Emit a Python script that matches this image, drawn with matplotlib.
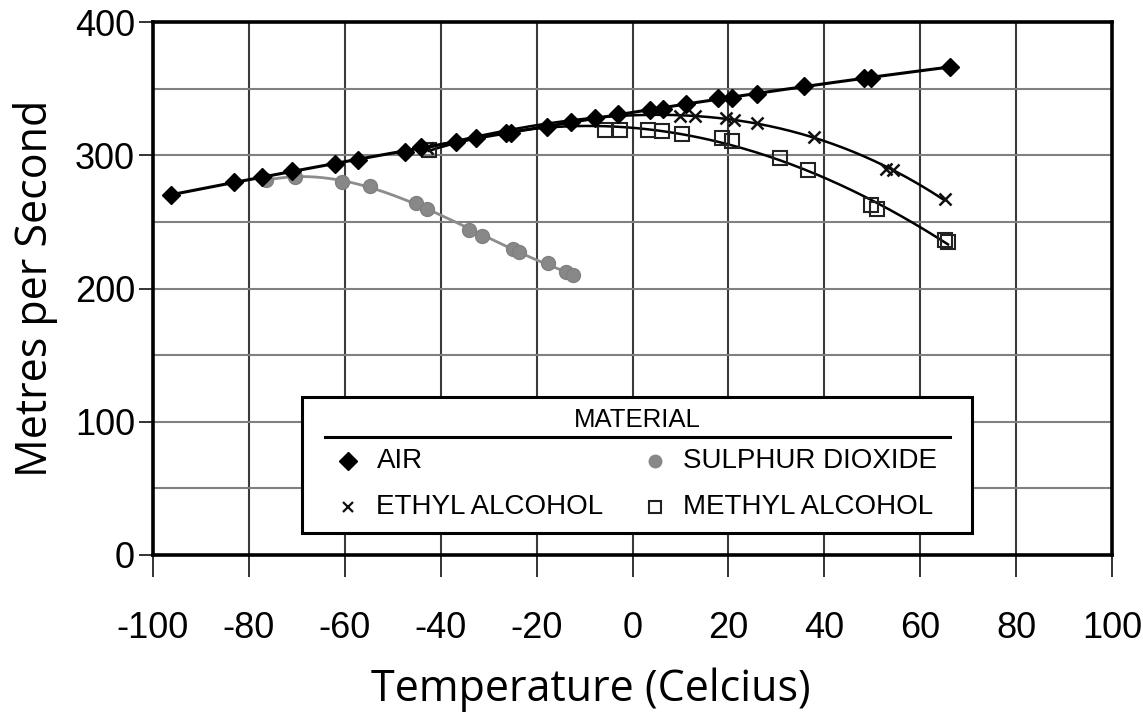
import numpy as np
import matplotlib
matplotlib.use("Agg")
import matplotlib.pyplot as plt
from matplotlib.patches import Rectangle
from matplotlib.lines import Line2D

plt.rcParams['axes.unicode_minus'] = False
plt.rcParams['font.family'] = ['Liberation Sans', 'DejaVu Sans']

# ---- data ----
air_x = [-96.3, -83.2, -77.3, -71.0, -62.0, -57.2, -47.4, -44.2, -36.9, -32.7, -26.4, -25.4,
         -17.9, -12.8, -7.9, -3.0, 3.6, 6.4, 11.2, 17.9, 20.7, 25.9, 35.8, 48.3, 49.7, 66.2]
air_y = [270, 279.6, 283.8, 288.3, 293.8, 296.8, 302.5, 306.3, 310, 312.6, 316.4, 316.9,
         321.3, 325, 327.6, 331, 334.3, 335, 338.8, 342.6, 343.3, 346.3, 351.8, 357.6, 358.3, 366.3]

so2_x = [-76.4, -70.4, -60.6, -54.7, -45.2, -42.8, -34.1, -31.3, -25.0, -23.6, -17.7, -13.8, -12.4]
so2_y = [281.3, 283.8, 280, 276.8, 263.8, 260, 243.8, 239.3, 230, 227.5, 218.8, 212.5, 210]

ethyl_x = [-42.9, 9.9, 13.1, 19.4, 21.1, 25.9, 37.9, 52.9, 54.3, 65.1]
ethyl_y = [305.5, 329.3, 329.3, 327.6, 326.8, 324.3, 313.8, 290, 288.8, 266.8]

methyl_x = [-42.5, -5.8, -2.7, 3.3, 6.1, 10.3, 18.7, 20.8, 30.7, 36.5, 49.7, 51.0, 65.1, 65.8]
methyl_y = [304, 319.3, 319.3, 318.8, 318.3, 316.3, 312.6, 310.8, 297.6, 288.8, 262.6, 260, 236.3, 235]

x_ticks = [-100, -80, -60, -40, -20, 0, 20, 40, 60, 80, 100]
y_ticks = [0, 100, 200, 300, 400]
legend_title = "MATERIAL"
names = ["AIR", "SULPHUR DIOXIDE", "ETHYL ALCOHOL", "METHYL ALCOHOL"]

fig = plt.figure(figsize=(11.43, 7.21), dpi=100)
ax = fig.add_axes([153/1143, 1-555/721, (1112-153)/1143, (555-22)/721])
ax.set_xlim(-100, 100)
ax.set_ylim(0, 400)

# grid
for xv in range(-80, 100, 20):
    ax.axvline(xv, color='#3a3a3a', lw=1.5, zorder=1)
for yv in range(50, 400, 50):
    ax.axhline(yv, color='#808080', lw=1.5, zorder=1)

def smooth(xs, ys, deg=3):
    xs = np.asarray(xs); ys = np.asarray(ys)
    c = np.polyfit(xs, ys, deg)
    xx = np.linspace(xs.min(), xs.max(), 300)
    return xx, np.polyval(c, xx)

xx, yy = smooth(so2_x, so2_y)
ax.plot(xx, yy, color='#8c8c8c', lw=2.0, zorder=3)
ax.plot(so2_x, so2_y, 'o', color='#888888', ms=10, mec='#808080', zorder=4)

xx, yy = smooth(methyl_x, methyl_y)
ax.plot(xx, yy, color='black', lw=1.8, zorder=3)
ax.plot(methyl_x, methyl_y, 's', mfc='none', mec='#222222', ms=10, mew=1.5, zorder=4)

xx, yy = smooth(ethyl_x, ethyl_y)
ax.plot(xx, yy, color='black', lw=1.8, zorder=3)
ax.plot(ethyl_x, ethyl_y, 'x', color='#111111', ms=8, mew=1.8, zorder=4)

xx, yy = smooth(air_x, air_y)
ax.plot(xx, yy, color='black', lw=2.2, zorder=5)
ax.plot(air_x, air_y, 'D', color='black', ms=9.5, zorder=6)

# axes styling
for s in ax.spines.values():
    s.set_linewidth(2.6)
    s.set_color('black')
    s.set_zorder(10)
ax.set_xticks(x_ticks)
ax.set_xticklabels([str(v) for v in x_ticks])
ax.set_yticks(y_ticks)
ax.set_yticklabels([str(v) for v in y_ticks])
ax.tick_params(axis='x', length=16, width=1.4, color='#333333', pad=24, labelsize=26)
ax.tick_params(axis='y', length=10, width=1.4, color='#333333', pad=3, labelsize=26)

title_font = ['Open Sans', 'DejaVu Sans']
ax.set_xlabel("Temperature (Celcius)", fontsize=31, family=title_font, va='center')
ax.xaxis.set_label_coords(0.457, (555 - 690) / 533)
ax.set_ylabel("Metres per Second", fontsize=31, family=title_font, va='center', ha='center')
ax.yaxis.set_label_coords((36 - 153) / 959, (555 - 288) / 533)

# legend (manual, in axes coordinates)
x0, x1 = 0.1554, 0.854
y0, y1 = 0.0413, 0.2964
ax.add_patch(Rectangle((x0, y0), x1-x0, y1-y0, transform=ax.transAxes,
                       facecolor='white', edgecolor='black', lw=2.2, zorder=20))
ax.text((x0+x1)/2, 0.253, legend_title, transform=ax.transAxes, ha='center', va='center',
        fontsize=18.5, zorder=21)
ax.add_line(Line2D([0.179, 0.831], [0.221, 0.221], transform=ax.transAxes,
                   color='black', lw=2.2, zorder=21))
entries = [
    (0.203, 0.176, 'D', dict(color='black', ms=9)),
    (0.523, 0.176, 'o', dict(color='#888888', ms=9)),
    (0.203, 0.090, 'x', dict(color='#111111', ms=7, mew=1.6)),
    (0.523, 0.090, 's', dict(mfc='none', mec='#222222', ms=8, mew=1.5)),
]
for (mx, my, mk, kw), nm in zip(entries, names):
    ax.plot([mx], [my], mk, transform=ax.transAxes, zorder=22, clip_on=False, **kw)
    ax.text(mx + 0.030, my, nm, transform=ax.transAxes, ha='left', va='center',
            fontsize=20, zorder=22)

fig.savefig("out.png", dpi=100)
